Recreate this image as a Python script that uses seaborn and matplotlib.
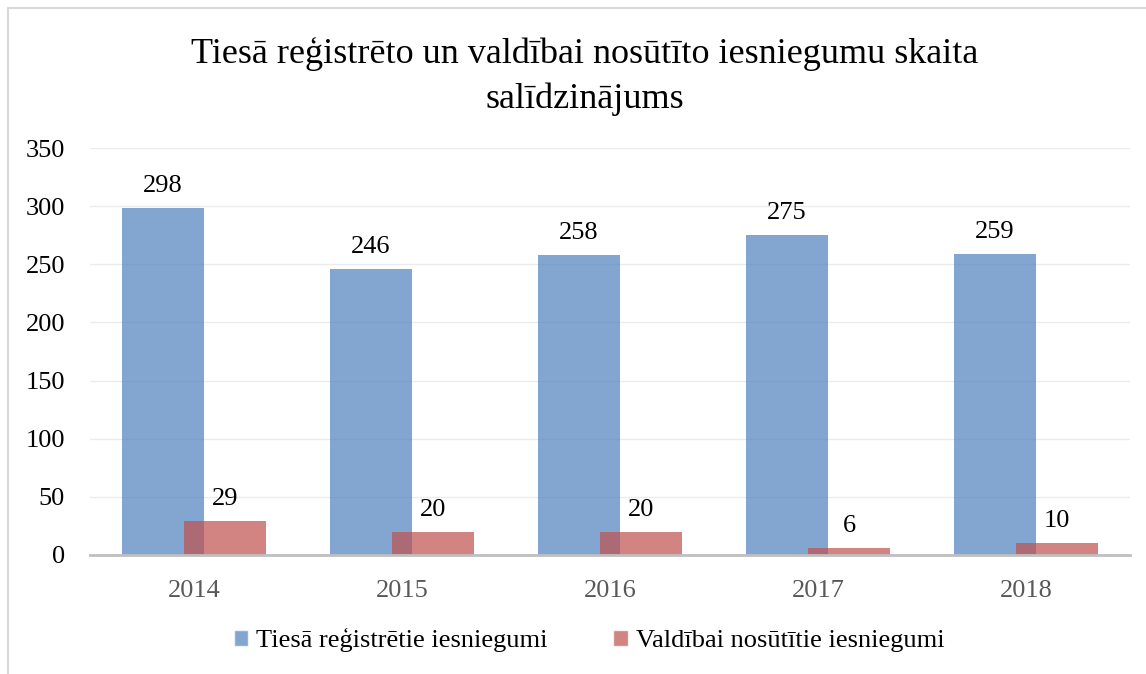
import matplotlib
matplotlib.use("Agg")
import matplotlib.pyplot as plt
from matplotlib.lines import Line2D
import seaborn as sns
import pandas as pd

years = ["2014", "2015", "2016", "2017", "2018"]
registered = [298, 246, 258, 275, 259]
sent = [29, 20, 20, 6, 10]
series_names = ["Tiesā reģistrētie iesniegumi", "Valdībai nosūtītie iesniegumi"]
title = "Tiesā reģistrēto un valdībai nosūtīto iesniegumu skaita\nsalīdzinājums"

sns.set_theme(style="white")
plt.rcParams['font.family'] = ['Liberation Serif', 'DejaVu Serif']

df = pd.DataFrame({
    "year": years * 2,
    "value": registered + sent,
    "series": [series_names[0]] * len(years) + [series_names[1]] * len(years),
})

blue = "#4F81BD"
red = "#C0504D"

fig = plt.figure(figsize=(11.46, 6.74), dpi=100)
ax = fig.add_axes([0.0785, 0.1766, 0.9075, 0.6038])

sns.barplot(data=df, x="year", y="value", hue="series", hue_order=series_names,
            palette=[blue, red], dodge=True, width=0.78, alpha=0.7,
            saturation=1, ax=ax, legend=True)

# pull the two bars of each year together so they overlap
bar_w = 0.39
offset = 0.149
for i, container in enumerate(ax.containers):
    sign = -1 if i == 0 else 1
    for j, patch in enumerate(container.patches):
        patch.set_width(bar_w)
        patch.set_x(j + sign * offset - bar_w / 2)
        patch.set_linewidth(0)
    ax.bar_label(container, padding=8, fontsize=19, color="black")

ax.set_ylim(0, 350)
ax.set_xlim(-0.5, 4.5)
ax.set_yticks(range(0, 351, 50))
ax.grid(axis="y", color="#EBEBEB", linewidth=1)
ax.set_axisbelow(True)
for s in ["top", "right", "left"]:
    ax.spines[s].set_visible(False)
ax.spines["bottom"].set_color("#BFBFBF")
ax.spines["bottom"].set_linewidth(2)
ax.tick_params(axis="y", labelsize=19, labelcolor="black", length=0, pad=18)
ax.tick_params(axis="x", labelsize=19, labelcolor="#595959", length=0, pad=18)
ax.set_xlabel("")
ax.set_ylabel("")

fig.suptitle(title, x=0.51, y=0.945, fontsize=26, linespacing=1.45, color="black")

handles, lbls = ax.get_legend_handles_labels()
ax.legend_.remove()
leg = fig.legend(handles, lbls, loc="center", bbox_to_anchor=(0.514, 0.05), ncol=2,
                 frameon=False, fontsize=19, handlelength=0.55, handleheight=0.55,
                 handletextpad=0.3, columnspacing=2.5)
for t in leg.get_texts():
    t.set_color("black")

# chart frame (left and top edges visible)
fig.add_artist(Line2D([8 / 1146, 8 / 1146], [0, 1 - 8 / 674], transform=fig.transFigure,
                      color="#D9D9D9", linewidth=1.5))
fig.add_artist(Line2D([8 / 1146, 1], [1 - 8 / 674, 1 - 8 / 674], transform=fig.transFigure,
                      color="#D9D9D9", linewidth=1.5))

fig.savefig("out.png", dpi=100)
